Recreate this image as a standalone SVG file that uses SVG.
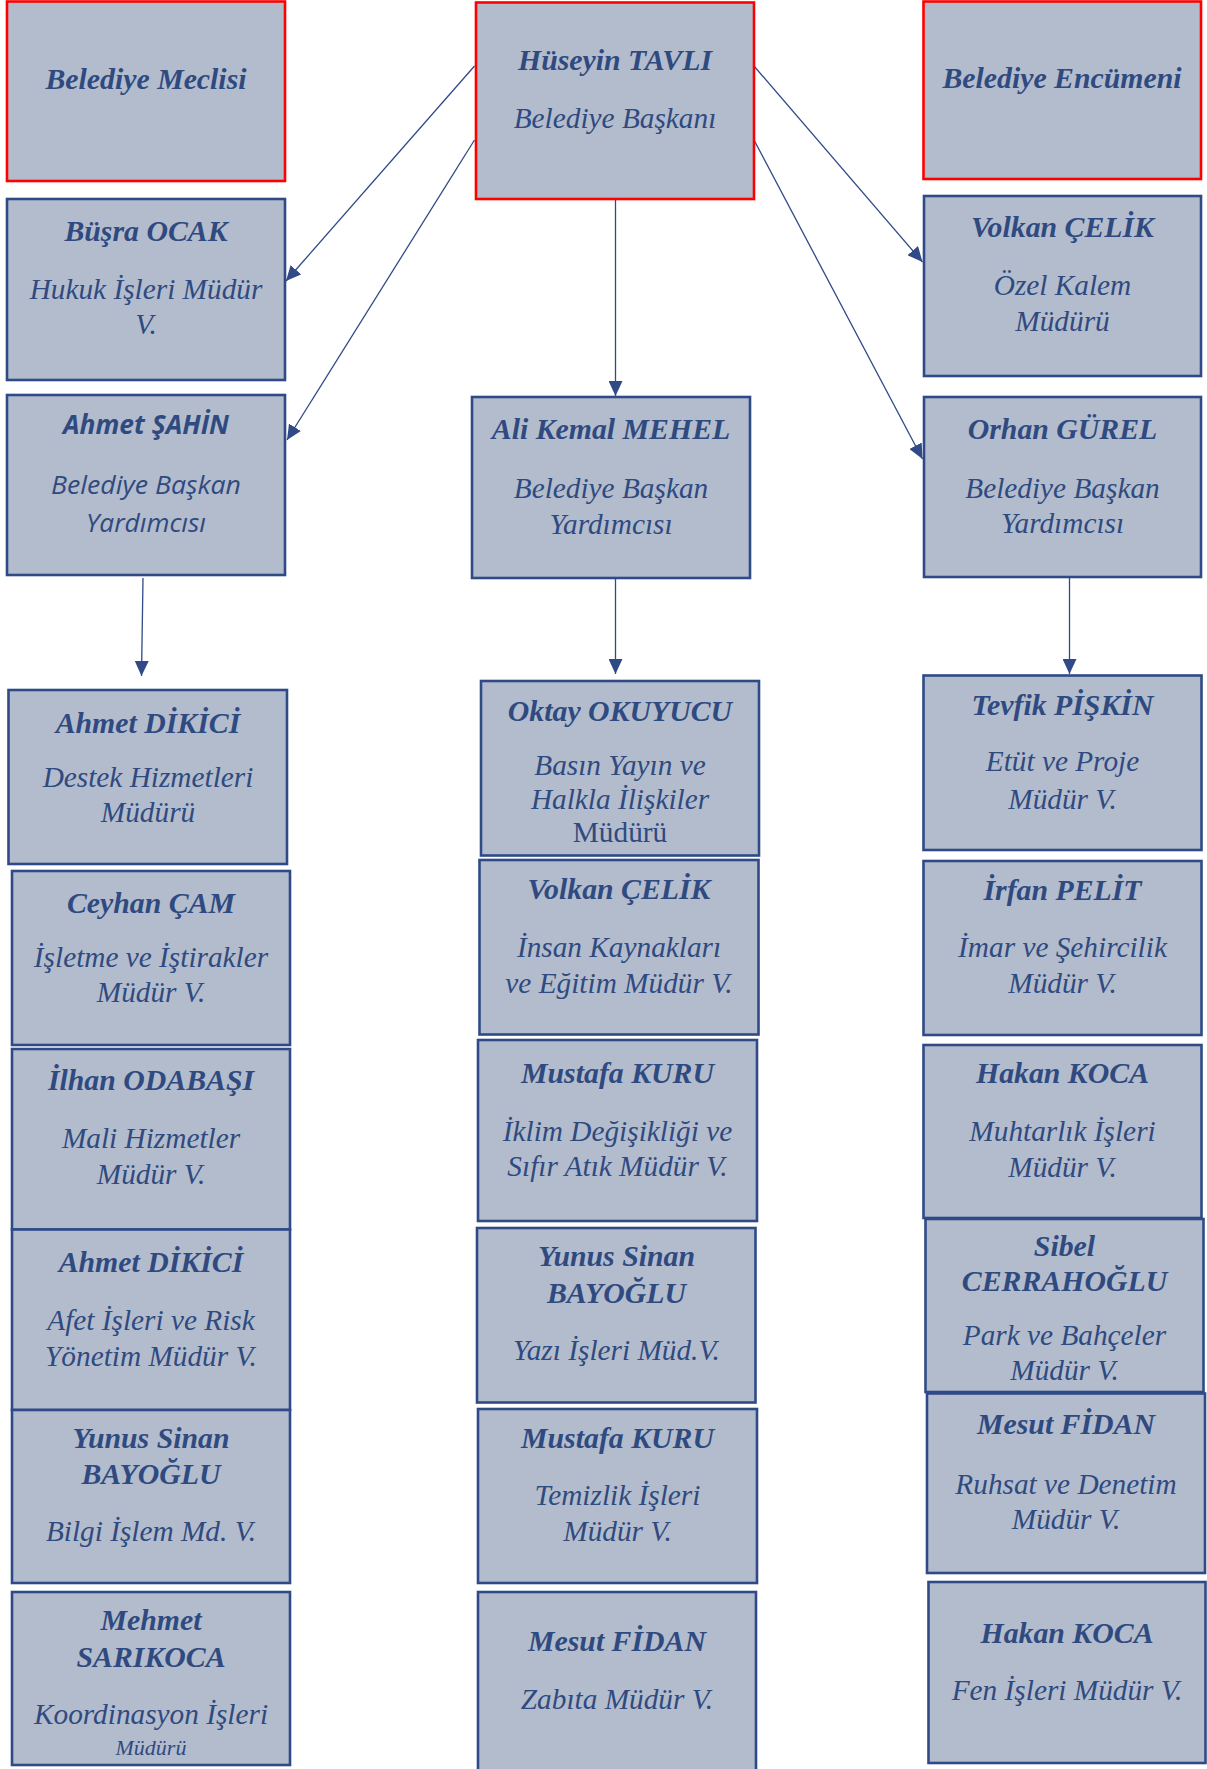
<svg xmlns="http://www.w3.org/2000/svg" width="1207" height="1769" viewBox="0 0 1207 1769">
<style>
.box{fill:#B3BCCC;stroke:#2F4A87;stroke-width:2.6}
.red{fill:#B3BCCC;stroke:#FF0000;stroke-width:2.6}
text{fill:#2F4A80;text-anchor:middle;font-family:"Liberation Serif","Times New Roman",serif;font-size:29.3px}
.n{font-weight:bold;font-style:italic;font-size:29.8px}
.t{font-style:italic}
.u{font-style:normal}
.s{font-family:"Open Sans","Noto Sans","Liberation Sans",sans-serif;font-style:italic;font-size:26px}
.sb{font-weight:bold}
.sm{font-size:22px}
.c{stroke:#2F4A87;stroke-width:1.3;fill:none;marker-end:url(#ah)}
</style>
<defs>
<marker id="ah" markerUnits="userSpaceOnUse" markerWidth="16" markerHeight="14" refX="15" refY="7" orient="auto">
<path d="M0,0 L15,7 L0,14 Z" fill="#2F4A87"/>
</marker>
</defs>
<rect width="1207" height="1769" fill="#FFFFFF"/>
<g id="connectors">
<line class="c" x1="474.5" y1="66" x2="286" y2="281"/>
<line class="c" x1="474.5" y1="140" x2="287" y2="440"/>
<line class="c" x1="754" y1="66" x2="922.5" y2="262"/>
<line class="c" x1="754" y1="140" x2="922.5" y2="459"/>
<line class="c" x1="615.5" y1="199" x2="615.5" y2="396"/>
<line class="c" x1="143" y1="578" x2="141.5" y2="676"/>
<line class="c" x1="615.5" y1="578" x2="615.5" y2="674"/>
<line class="c" x1="1069.5" y1="577" x2="1069.5" y2="674"/>
</g>
<g id="meclis"><rect class="red" x="7" y="1.5" width="278" height="179.5"/>
<text class="n" x="146" y="89">Belediye Meclisi</text></g>
<g id="baskan"><rect class="red" x="476" y="2.5" width="278" height="196.5"/>
<text class="n" x="615" y="70">Hüseyin TAVLI</text>
<text class="t" x="615" y="128">Belediye Başkanı</text></g>
<g id="encumen"><rect class="red" x="923.5" y="1.5" width="277.5" height="177.5"/>
<text class="n" x="1062" y="88">Belediye Encümeni</text></g>
<g id="busra"><rect class="box" x="7" y="199" width="278" height="181"/>
<text class="n" x="146" y="241">Büşra OCAK</text>
<text class="t" x="146" y="298.5">Hukuk İşleri Müdür</text>
<text class="t" x="146" y="334">V.</text></g>
<g id="sahin"><rect class="box" x="7" y="395" width="278" height="180"/>
<text class="s sb" x="146" y="433.5" textLength="166" lengthAdjust="spacingAndGlyphs">Ahmet ŞAHİN</text>
<text class="s" x="146" y="494" textLength="190" lengthAdjust="spacingAndGlyphs">Belediye Başkan</text>
<text class="s" x="146" y="532" textLength="120" lengthAdjust="spacingAndGlyphs">Yardımcısı</text></g>
<g id="alikemal"><rect class="box" x="472" y="397" width="278" height="181"/>
<text class="n" x="611" y="439">Ali Kemal MEHEL</text>
<text class="t" x="611" y="497.5">Belediye Başkan</text>
<text class="t" x="611" y="534">Yardımcısı</text></g>
<g id="volkan1"><rect class="box" x="924" y="196" width="277" height="180"/>
<text class="n" x="1062.5" y="237">Volkan ÇELİK</text>
<text class="t" x="1062.5" y="295">Özel Kalem</text>
<text class="t" x="1062.5" y="331">Müdürü</text></g>
<g id="orhan"><rect class="box" x="924" y="397" width="277" height="180"/>
<text class="n" x="1062.5" y="439">Orhan GÜREL</text>
<text class="t" x="1062.5" y="497.5">Belediye Başkan</text>
<text class="t" x="1062.5" y="533">Yardımcısı</text></g>
<g id="dikici1"><rect class="box" x="8.5" y="690" width="278.5" height="174"/>
<text class="n" x="148" y="733">Ahmet DİKİCİ</text>
<text class="t" x="148" y="786.5">Destek Hizmetleri</text>
<text class="t" x="148" y="822">Müdürü</text></g>
<g id="ceyhan"><rect class="box" x="12" y="871" width="278" height="174"/>
<text class="n" x="151" y="913">Ceyhan ÇAM</text>
<text class="t" x="151" y="967">İşletme ve İştirakler</text>
<text class="t" x="151" y="1002">Müdür V.</text></g>
<g id="ilhan"><rect class="box" x="12" y="1049" width="278" height="180.5"/>
<text class="n" x="151" y="1090">İlhan ODABAŞI</text>
<text class="t" x="151" y="1147.5">Mali Hizmetler</text>
<text class="t" x="151" y="1184">Müdür V.</text></g>
<g id="dikici2"><rect class="box" x="12" y="1229.5" width="278" height="180.5"/>
<text class="n" x="151" y="1271.5">Ahmet DİKİCİ</text>
<text class="t" x="151" y="1330">Afet İşleri ve Risk</text>
<text class="t" x="151" y="1366">Yönetim Müdür V.</text></g>
<g id="yunus1"><rect class="box" x="12" y="1410" width="278" height="173"/>
<text class="n" x="151" y="1448">Yunus Sinan</text>
<text class="n" x="151" y="1483.5">BAYOĞLU</text>
<text class="t" x="151" y="1541">Bilgi İşlem Md. V.</text></g>
<g id="mehmet"><rect class="box" x="12" y="1592" width="278" height="173"/>
<text class="n" x="151" y="1630">Mehmet</text>
<text class="n" x="151" y="1666.5">SARIKOCA</text>
<text class="t" x="151" y="1724">Koordinasyon İşleri</text>
<text class="t sm" x="151" y="1754.5">Müdürü</text></g>
<g id="oktay"><rect class="box" x="481" y="681" width="278" height="174.5"/>
<text class="n" x="620" y="721">Oktay OKUYUCU</text>
<text class="t" x="620" y="775">Basın Yayın ve</text>
<text class="t" x="620" y="809">Halkla İlişkiler</text>
<text class="u" x="620" y="842">Müdürü</text></g>
<g id="volkan2"><rect class="box" x="479.5" y="860" width="279" height="174.5"/>
<text class="n" x="619" y="899">Volkan ÇELİK</text>
<text class="t" x="619" y="957">İnsan Kaynakları</text>
<text class="t" x="619" y="993">ve Eğitim Müdür V.</text></g>
<g id="mustafa1"><rect class="box" x="478" y="1040" width="279" height="181"/>
<text class="n" x="617.5" y="1082.5">Mustafa KURU</text>
<text class="t" x="617.5" y="1140.5">İklim Değişikliği ve</text>
<text class="t" x="617.5" y="1176">Sıfır Atık Müdür V.</text></g>
<g id="yunus2"><rect class="box" x="477" y="1228" width="278.5" height="174.5"/>
<text class="n" x="616.5" y="1266">Yunus Sinan</text>
<text class="n" x="616.5" y="1303">BAYOĞLU</text>
<text class="t" x="616.5" y="1360">Yazı İşleri Müd.V.</text></g>
<g id="mustafa2"><rect class="box" x="478" y="1409" width="279" height="174"/>
<text class="n" x="617.5" y="1447.5">Mustafa KURU</text>
<text class="t" x="617.5" y="1505">Temizlik İşleri</text>
<text class="t" x="617.5" y="1541">Müdür V.</text></g>
<g id="mesut1"><rect class="box" x="478" y="1592" width="278" height="190"/>
<text class="n" x="617" y="1651">Mesut FİDAN</text>
<text class="t" x="617" y="1708.5">Zabıta Müdür V.</text></g>
<g id="tevfik"><rect class="box" x="923.5" y="675.5" width="278" height="174.5"/>
<text class="n" x="1062.5" y="715">Tevfik PİŞKİN</text>
<text class="t" x="1062.5" y="771">Etüt ve Proje</text>
<text class="t" x="1062.5" y="809">Müdür V.</text></g>
<g id="irfan"><rect class="box" x="923.5" y="861" width="278" height="174"/>
<text class="n" x="1062.5" y="899.5">İrfan PELİT</text>
<text class="t" x="1062.5" y="957">İmar ve Şehircilik</text>
<text class="t" x="1062.5" y="993">Müdür V.</text></g>
<g id="hakan1"><rect class="box" x="923.5" y="1045" width="278" height="173"/>
<text class="n" x="1062.5" y="1083">Hakan KOCA</text>
<text class="t" x="1062.5" y="1140.5">Muhtarlık İşleri</text>
<text class="t" x="1062.5" y="1177">Müdür V.</text></g>
<g id="sibel"><rect class="box" x="925.5" y="1219" width="278" height="173"/>
<text class="n" x="1064.5" y="1256">Sibel</text>
<text class="n" x="1064.5" y="1291">CERRAHOĞLU</text>
<text class="t" x="1064.5" y="1345">Park ve Bahçeler</text>
<text class="t" x="1064.5" y="1379.5">Müdür V.</text></g>
<g id="mesut2"><rect class="box" x="927" y="1393.5" width="278" height="179.5"/>
<text class="n" x="1066" y="1434">Mesut FİDAN</text>
<text class="t" x="1066" y="1493.5">Ruhsat ve Denetim</text>
<text class="t" x="1066" y="1529">Müdür V.</text></g>
<g id="hakan2"><rect class="box" x="928.5" y="1582" width="277" height="181"/>
<text class="n" x="1067" y="1643">Hakan KOCA</text>
<text class="t" x="1067" y="1700">Fen İşleri Müdür V.</text></g>
</svg>
